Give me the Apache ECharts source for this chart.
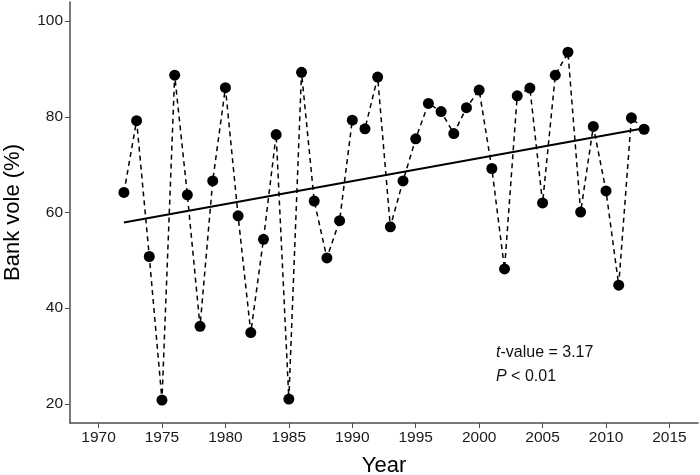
<!DOCTYPE html>
<html>
<head>
<meta charset="utf-8">
<script src="https://cdn.jsdelivr.net/npm/echarts@6/dist/echarts.min.js"></script>
<style>html,body{margin:0;padding:0;background:#fff}#c{width:700px;height:475px}</style>
</head>
<body>
<div id="c"></div>
<script>
const years = [1972,1973,1974,1975,1976,1977,1978,1979,1980,1981,1982,1983,1984,1985,1986,1987,1988,1989,1990,1991,1992,1993,1994,1995,1996,1997,1998,1999,2000,2001,2002,2003,2004,2005,2006,2007,2008,2009,2010,2011,2012,2013];
const bankVole = [64.2,79.2,50.8,20.8,88.7,63.7,36.2,66.6,86.1,59.3,34.9,54.4,76.3,21.0,89.3,62.4,50.5,58.3,79.3,77.5,88.3,57.0,66.6,75.4,82.8,81.1,76.5,81.9,85.6,69.2,48.2,84.4,86.0,62.0,88.7,93.5,60.1,78.0,64.5,44.8,79.8,77.4];
const trendYears = [1972, 2013];
const trendValues = [57.9, 77.6];
const xTicks = [1970,1975,1980,1985,1990,1995,2000,2005,2010,2015];
const yTicks = [20,40,60,80,100];

const chart = echarts.init(document.getElementById('c'), null, {renderer:'canvas'});
const font = 'Liberation Sans, Arial, sans-serif';
chart.setOption({
  animation: false,
  backgroundColor: '#fff',
  grid: {left: 70, top: 2, right: 2, bottom: 52, containLabel: false, outerBoundsMode: 'none'},
  xAxis: {
    type: 'value', min: 1967.75, max: 2017.25,
    name: 'Year', nameLocation: 'middle', nameGap: 32,
    nameTextStyle: {fontFamily: font, fontSize: 22, color: '#000'},
    axisLine: {show: true, onZero: false, lineStyle: {color: '#4d4d4d', width: 1.5}},
    axisTick: {show: true, length: 5, customValues: xTicks, lineStyle: {color: '#4d4d4d', width: 1}},
    axisLabel: {customValues: xTicks, formatter: v => String(v), fontFamily: font, fontSize: 15.5, color: '#1a1a1a', margin: 7},
    splitLine: {show: false}
  },
  yAxis: {
    type: 'value', min: 16, max: 104,
    name: 'Bank vole (%)', nameLocation: 'middle', nameGap: 46, nameRotate: 90,
    nameTextStyle: {fontFamily: font, fontSize: 22, color: '#000'},
    axisLine: {show: true, onZero: false, lineStyle: {color: '#4d4d4d', width: 1.5}},
    axisTick: {show: true, length: 5, customValues: yTicks, lineStyle: {color: '#4d4d4d', width: 1}},
    axisLabel: {customValues: yTicks, formatter: v => String(v), fontFamily: font, fontSize: 15.5, color: '#1a1a1a', margin: 7},
    splitLine: {show: false}
  },
  series: [
    {
      type: 'line',
      data: years.map((y, i) => [y, bankVole[i]]),
      symbol: 'circle', symbolSize: 11,
      itemStyle: {color: '#000'},
      lineStyle: {color: '#000', width: 1.5, type: [5, 4]},
      z: 3
    },
    {
      type: 'line',
      data: trendYears.map((y, i) => [y, trendValues[i]]),
      symbol: 'none',
      lineStyle: {color: '#000', width: 2},
      z: 2
    }
  ],
  graphic: [{
    type: 'text',
    left: 496, top: 341,
    style: {
      text: '{i|t}-value = 3.17\n{i|P} < 0.01',
      fontFamily: font, fontSize: 16, lineHeight: 24, fill: '#111',
      rich: {i: {fontStyle: 'italic', fontFamily: font, fontSize: 16, lineHeight: 24, color: '#111'}}
    }
  }]
});
</script>
</body>
</html>
